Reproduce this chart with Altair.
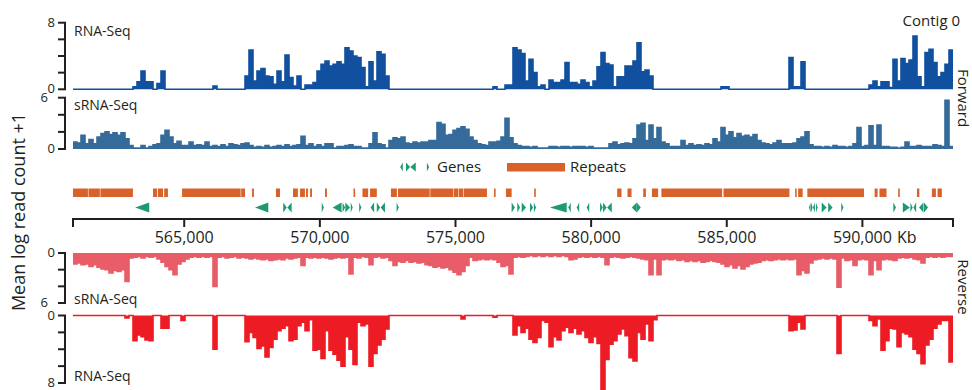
import altair as alt
import pandas as pd

# Genomic window shown on the shared x axis (bp)
START, END = 560900, 593340
TICKS = [565000, 570000, 575000, 580000, 585000, 590000]

# Mean log read count +1, in equal-width bins across the window
FWD_RNA = [
    0, 0, 0, 0, 0, 0, 0, 0, 0, 0, 0, 0, 0, 0, 0, 0.3, 0.9, 2.2, 0.9, 0.9,
    0, 0.7, 2.2, 0, 0, 0, 0, 0, 0, 0, 0, 0, 0, 0, 0, 0.4, 0, 0, 0, 0,
    0, 0, 0, 1.6, 4.7, 1.0, 2.2, 2.5, 1.6, 1.5, 0.6, 2.2, 0.9, 4.1, 1.4, 0.4, 1.6, 0, 0.5, 0.5,
    0.8, 2.2, 3.0, 3.4, 2.8, 3.0, 3.3, 3.0, 5.0, 4.6, 4.0, 3.8, 2.6, 0.3, 3.3, 1.0, 4.5, 4.2, 1.6, 0,
    0, 0, 0, 0, 0, 0, 0, 0, 0, 0, 0, 0, 0, 0, 0, 0, 0, 0, 0, 0,
    0, 0, 0, 0, 0, 0.3, 0, 0, 0.5, 0.5, 5.0, 4.7, 4.3, 1.0, 3.6, 2.0, 0.3, 0.5, 0, 1.1,
    0.8, 0.8, 1.1, 3.2, 0.8, 0.8, 0.6, 1.1, 0.8, 0.3, 1.0, 2.7, 4.4, 3.1, 2.9, 0.3, 1.5, 1.5, 2.8, 2.8,
    3.4, 5.6, 2.1, 2.3, 1.6, 0, 0, 0, 0, 0, 0, 0, 0, 0, 0, 0, 0, 0, 0, 0,
    0, 0, 0.3, 0.3, 0, 0, 0, 0, 0, 0, 0, 0, 0, 0, 0, 0, 0, 0, 0, 3.8,
    0.3, 0.3, 3.3, 0, 0, 0, 0, 0, 0, 0, 0, 0, 0, 0, 0, 0, 0, 0, 0, 0.5,
    1.0, 0.3, 0.9, 0.9, 0.2, 3.6, 1.0, 3.7, 3.1, 3.5, 6.4, 1.5, 0.3, 4.4, 4.8, 3.2, 1.5, 2.0, 3.0, 4.7,
]
FWD_SRNA = [
    0.8, 0.7, 1.6, 0.6, 1.1, 0.6, 1.4, 1.8, 2.0, 1.7, 1.9, 1.6, 1.9, 1.2, 0.4, 0.1, 0.1, 0.4, 0.1, 0.3,
    0.5, 0.6, 1.6, 2.2, 1.4, 0.6, 0.9, 0.4, 0.4, 0.8, 0.4, 0.5, 0.4, 0.8, 0.3, 0.4, 0.3, 0.5, 0.3, 0.6,
    0.5, 0.4, 0.6, 0.7, 0.4, 0.2, 0.3, 0.2, 0.4, 0.2, 0.3, 0.4, 0.3, 0.5, 0.3, 0.4, 0.5, 1.5, 0.4, 0.6,
    0.3, 0.5, 0.3, 0.6, 0.6, 0.1, 0.3, 0.3, 0.4, 0.5, 0.3, 0.3, 0.1, 0.1, 0.6, 1.9, 0.6, 0.5, 0.1, 1.0,
    1.3, 1.2, 1.4, 0.7, 0.6, 0.8, 0.7, 0.8, 0.8, 1.0, 1.0, 3.1, 2.9, 1.6, 1.7, 2.2, 2.4, 2.6, 2.3, 1.4,
    1.0, 0.6, 0.5, 0.4, 0.8, 0.8, 0.9, 1.4, 3.6, 1.3, 0.6, 0.4, 0.3, 0.3, 0.2, 0.3, 0.1, 0.1, 0.1, 0.3,
    0.3, 0.2, 0.3, 0.3, 0.2, 0.3, 0.3, 0.3, 0.2, 0.3, 0.1, 0.1, 0.1, 0.1, 0.6, 0.8, 0.5, 0.6, 0.7, 0.6,
    1.2, 2.8, 3.0, 1.0, 2.8, 1.2, 2.5, 0.8, 0.6, 0.3, 0.3, 0.3, 1.0, 0.4, 0.6, 0.4, 0.5, 0.4, 0.6, 0.5,
    1.2, 0.8, 2.5, 1.6, 2.0, 1.3, 1.8, 1.5, 1.6, 1.4, 1.7, 1.0, 0.7, 0.6, 0.5, 0.7, 1.0, 0.6, 0.6, 0.6,
    0.7, 1.2, 1.4, 2.0, 0.5, 0.3, 0.3, 0.2, 0.3, 0.2, 0.4, 0.3, 0.3, 0.2, 0.3, 0.6, 2.5, 0.3, 0.4, 2.7,
    0.4, 2.8, 0.3, 0.3, 0.2, 0.2, 0.1, 0.2, 0.8, 0.3, 0.3, 0.4, 0.3, 0.3, 0.3, 0.5, 0.4, 0.3, 5.7, 0.3,
]
REV_SRNA = [
    1.3, 1.2, 1.4, 1.3, 1.6, 1.4, 1.7, 1.9, 2.0, 2.4, 2.1, 2.2, 2.0, 3.4, 0.6, 0.5, 0.4, 0.6, 0.4, 0.5,
    0.4, 0.7, 1.1, 1.6, 2.0, 2.6, 1.3, 1.0, 0.7, 0.5, 0.4, 0.5, 0.4, 0.5, 0.4, 4.0, 0.5, 0.4, 0.6, 0.5,
    0.4, 0.6, 0.5, 0.6, 0.7, 0.6, 0.7, 0.8, 0.7, 0.9, 0.8, 0.7, 0.8, 0.6, 0.7, 0.6, 0.5, 1.5, 0.5, 0.6,
    0.5, 0.6, 0.5, 0.6, 0.7, 0.6, 0.5, 0.6, 0.5, 2.5, 0.5, 0.6, 0.4, 0.5, 1.4, 0.5, 0.4, 0.6, 0.5, 0.9,
    1.5, 1.0, 1.1, 0.9, 1.1, 1.0, 1.2, 1.1, 1.4, 1.5, 1.7, 1.6, 1.8, 1.7, 2.0, 2.3, 2.6, 2.2, 1.5, 0.5,
    0.9, 0.8, 0.7, 0.8, 0.7, 0.8, 1.1, 1.6, 1.5, 2.5, 0.5, 0.4, 0.5, 0.4, 0.3, 0.4, 0.3, 0.4, 0.3, 0.4,
    0.3, 0.4, 0.3, 0.4, 0.8, 0.7, 0.5, 0.4, 0.5, 0.4, 0.5, 0.4, 0.5, 1.4, 0.5, 0.4, 0.5, 0.6, 0.5, 0.4,
    0.5, 0.6, 0.7, 0.8, 2.6, 0.7, 2.6, 0.8, 0.7, 0.8, 0.7, 0.9, 0.8, 1.0, 0.9, 1.0, 0.9, 1.1, 1.0, 0.9,
    1.0, 1.1, 1.3, 1.6, 1.4, 1.8, 1.5, 1.9, 1.6, 1.3, 1.2, 1.1, 0.9, 0.8, 0.9, 0.8, 0.7, 0.8, 0.7, 0.8,
    0.7, 2.6, 2.1, 2.4, 1.2, 0.8, 0.7, 0.6, 0.7, 0.6, 0.7, 4.1, 0.6, 0.9, 0.8, 1.5, 0.8, 0.7, 0.8, 2.6,
    0.9, 2.0, 0.8, 0.7, 0.8, 0.9, 0.6, 0.5, 0.6, 0.5, 0.7, 0.8, 1.2, 0.5, 0.4, 0.5, 0.4, 0.5, 0.4, 0.4,
]
REV_RNA = [
    0, 0, 0, 0, 0, 0, 0, 0, 0, 0, 0, 0, 0, 0.3, 0, 3.0, 2.3, 2.5, 2.9, 3.0,
    0, 0, 1.5, 1.5, 0, 0, 0, 0.6, 0, 0, 0, 0, 0, 0, 0, 4.0, 0, 0, 0, 0,
    0, 0, 0, 3.1, 2.0, 2.6, 3.9, 3.6, 4.9, 3.8, 2.8, 1.8, 1.5, 1.2, 3.0, 2.8, 1.2, 0.8, 1.8, 0.5,
    4.1, 4.0, 5.1, 1.8, 4.1, 4.6, 5.3, 6.0, 2.5, 4.0, 5.8, 0.8, 1.2, 1.0, 6.0, 4.5, 3.5, 2.8, 1.6, 0,
    0, 0, 0, 0, 0, 0, 0, 0, 0, 0, 0, 0, 0, 0, 0, 0, 0, 0.4, 0, 0,
    0, 0, 0, 0, 0, 0.2, 0, 0, 0, 0, 2.3, 1.2, 2.0, 1.5, 2.8, 3.2, 2.6, 0.6, 0.8, 3.7,
    2.5, 2.9, 1.8, 1.4, 2.0, 1.5, 2.2, 1.8, 2.6, 3.2, 2.5, 3.3, 8.8, 5.2, 3.4, 3.0, 2.2, 1.6, 2.4, 5.0,
    5.4, 2.0, 2.8, 1.0, 3.0, 0.5, 0, 0, 0, 0, 0, 0, 0, 0, 0, 0, 0, 0, 0, 0,
    0, 0, 0, 0, 0, 0, 0, 0, 0, 0, 0, 0, 0, 0, 0, 0, 0, 0, 0, 1.8,
    1.7, 0.8, 1.6, 0, 0, 0, 0, 0, 0, 0, 0, 4.5, 0, 0, 0, 0, 0, 0, 0, 0.6,
    1.2, 0.4, 4.1, 3.0, 1.5, 1.6, 3.7, 2.0, 2.2, 2.5, 4.0, 4.5, 5.7, 3.5, 2.8, 1.5, 1.0, 0.6, 0.6, 5.5,
]

# Repeat annotations (bp)
REPEAT_START = [560900, 561470, 561910, 563850, 564030, 564260, 564920, 567100, 567500, 568380,
                569010, 569270, 569490, 569640, 570190, 571240, 571570, 571850, 572620, 572880,
                574070, 574930, 575120, 575300, 576420, 576860, 577900, 580960, 581340, 581920,
                582240, 582590, 584880, 587520, 587630, 587970, 590450, 590630, 591320, 592010,
                592560, 592770]
REPEAT_END = [561450, 561890, 563110, 564000, 564220, 564400, 567080, 567240, 567570, 568530,
              569190, 569450, 569560, 569710, 570260, 571300, 571780, 572100, 572840, 574050,
              574910, 575100, 575280, 576160, 576480, 577070, 577960, 581120, 581490, 582020,
              582470, 584830, 587310, 587580, 587800, 590060, 590560, 590890, 591380, 592100,
              592710, 592930]

# Gene models (bp) and strand
GENE_START = [563190, 567610, 568650, 568800, 570070, 570470, 570840, 570940, 571140, 571450,
              571870, 572100, 572240, 572830, 577070, 577280, 577440, 577750, 577890, 578480,
              579160, 579470, 579840, 580330, 580440, 580590, 581500, 581680, 588030, 588110,
              588180, 588290, 588500, 588740, 589220, 591140, 591490, 591770, 591880, 592090,
              592270]
GENE_END = [563710, 568100, 568780, 568960, 570150, 570800, 570930, 571110, 571210, 571530,
            572000, 572220, 572400, 572910, 577190, 577380, 577600, 577860, 577970, 579100,
            579250, 579560, 579930, 580430, 580570, 580760, 581680, 581830, 588090, 588160,
            588250, 588350, 588680, 588900, 589300, 591240, 591750, 591850, 591980, 592250,
            592420]
GENE_STRAND = ["-", "-", "+", "-", "+", "-", "+", "+", "+", "+",
               "-", "+", "-", "+", "+", "+", "+", "+", "+", "-",
               "-", "-", "-", "+", "+", "-", "-", "+", "-", "+",
               "-", "+", "+", "+", "+", "+", "+", "+", "-", "-",
               "+"]

INK = "#231f20"
FONT = "Open Sans"
BLUE_RNA = "#11509f"
BLUE_SRNA = "#356b9a"
RED_SRNA = "#e85d67"
RED_RNA = "#ed1c24"
ORANGE = "#d9622a"
GREEN = "#1b9a74"

LEFT = 73          # left padding: page x of the plot area's origin
PLOT_W, PLOT_H = 880, 390
AXIS_Y = 219       # coordinate axis line, inside the plot area
SPINE_X = -8       # track value axes sit just left of the plot area
GENE_MID, GENE_H = 207.5, 10

x_scale = alt.Scale(domain=[START, END], nice=False, zero=False)
X_NOAXIS = dict(scale=x_scale, axis=None)


def track_frame(values):
    n = len(values)
    step = (END - START) / n
    return pd.DataFrame({
        "pos": [START + i * step for i in range(n + 1)],
        "value": list(values) + [values[-1]],
    })


def track(values, color, top, y_range, top_label_shift=0):
    yscale = alt.Scale(domain=[0, top], range=y_range, nice=False, zero=True)

    def ych(field):
        return alt.Y(field, scale=yscale, axis=None, stack=None)

    area = alt.Chart(track_frame(values)).mark_area(
        interpolate="step-after", color=color, opacity=1,
        line={"color": color, "strokeWidth": 1.6},
    ).encode(x=alt.X("pos:Q", **X_NOAXIS), y=ych("value:Q"))

    spine = alt.Chart(pd.DataFrame({"a": [0], "b": [top]})).mark_rule(
        color=INK, strokeWidth=2,
    ).encode(x=alt.value(SPINE_X), y=ych("a:Q"), y2="b:Q")

    ticks = alt.Chart(pd.DataFrame({"v": list(range(0, top + 1, 2))})).mark_rule(
        color=INK, strokeWidth=2,
    ).encode(x=alt.value(SPINE_X - 7), x2=alt.value(SPINE_X + 1), y=ych("v:Q"))

    def tick_label(v, right_edge):
        return alt.Chart(pd.DataFrame({"v": [v], "t": [str(v)]})).mark_text(
            align="right", baseline="middle", font=FONT, fontSize=13, color=INK,
        ).encode(x=alt.value(right_edge), y=ych("v:Q"), text="t:N")

    return alt.layer(
        area, spine, ticks,
        tick_label(0, SPINE_X - 10),
        tick_label(top, SPINE_X - 10 - top_label_shift),
    )


def text(label, px, py, size=14, align="left", baseline="middle", angle=0):
    return alt.Chart(pd.DataFrame({"t": [label]})).mark_text(
        align=align, baseline=baseline, angle=angle, font=FONT, fontSize=size, color=INK,
    ).encode(x=alt.value(px - LEFT), y=alt.value(py), text="t:N")


def arrow_path(width_px, strand, height_px=GENE_H):
    # symbol path in [-1, 1] units; the symbol is drawn height_px tall
    a = round(width_px / height_px, 4)
    if strand == "+":
        return f"M{-a},-1L{a},0L{-a},1Z"
    return f"M{a},-1L{-a},0L{a},1Z"


def glyph(cx, width, strand, cy=167, height=9):
    return alt.Chart(pd.DataFrame({"g": [0]})).mark_point(
        shape=arrow_path(width, strand, height), filled=True, size=height * height,
        color=GREEN, opacity=1, strokeWidth=0,
    ).encode(x=alt.value(cx - LEFT), y=alt.value(cy))


fwd_rna = track(FWD_RNA, BLUE_RNA, 8, [89.3, 22.7])
fwd_srna = track(FWD_SRNA, BLUE_SRNA, 6, [149, 97.7], top_label_shift=7)
rev_srna = track(REV_SRNA, RED_SRNA, 6, [253, 303], top_label_shift=7)
rev_rna = track(REV_RNA, RED_RNA, 8, [315.5, 383])

repeats = alt.Chart(pd.DataFrame({"start": REPEAT_START, "end": REPEAT_END})).mark_rect(
    color=ORANGE, opacity=1,
).encode(
    x=alt.X("start:Q", **X_NOAXIS),
    x2="end:Q",
    y=alt.value(188.5),
    y2=alt.value(197),
)

# Genes: one arrowhead symbol per gene, centred on the gene and as wide as it is long
px_per_bp = PLOT_W / (END - START)
gene_df = pd.DataFrame({"start": GENE_START, "end": GENE_END, "strand": GENE_STRAND})
gene_df["mid"] = (gene_df["start"] + gene_df["end"]) / 2
gene_df["shape"] = [
    arrow_path(max((e - s) * px_per_bp, 1.6), st)
    for s, e, st in zip(gene_df["start"], gene_df["end"], gene_df["strand"])
]
genes = alt.Chart(gene_df).mark_point(
    filled=True, size=GENE_H * GENE_H, color=GREEN, opacity=1, strokeWidth=0,
).encode(
    x=alt.X("mid:Q", **X_NOAXIS),
    y=alt.value(GENE_MID),
    shape=alt.Shape("shape:N", scale=None, legend=None),
)

# Coordinate axis along the middle of the figure
axis_line = alt.Chart(pd.DataFrame({"a": [START], "b": [END]})).mark_rule(
    color=INK, strokeWidth=2,
).encode(x=alt.X("a:Q", **X_NOAXIS), x2="b:Q", y=alt.value(AXIS_Y))

axis_ticks = alt.Chart(pd.DataFrame({"pos": [START] + TICKS + [END]})).mark_rule(
    color=INK, strokeWidth=2,
).encode(x=alt.X("pos:Q", **X_NOAXIS), y=alt.value(AXIS_Y - 1), y2=alt.value(AXIS_Y + 8))

axis_labels = alt.Chart(pd.DataFrame({"pos": TICKS, "label": [f"{t:,}" for t in TICKS]})).mark_text(
    align="center", baseline="top", font=FONT, fontSize=16, color=INK,
).encode(x=alt.X("pos:Q", **X_NOAXIS), y=alt.value(AXIS_Y + 11), text="label:N")

legend_bar = alt.Chart(pd.DataFrame({"r": [0]})).mark_rect(color=ORANGE, opacity=1).encode(
    x=alt.value(507 - LEFT), x2=alt.value(565 - LEFT), y=alt.value(163), y2=alt.value(171.5),
)

layers = [
    fwd_rna, fwd_srna, rev_srna, rev_rna, repeats,
    legend_bar,
    glyph(401.5, 2.6, "-"), glyph(408, 4, "+"), glyph(413, 5.5, "-"), glyph(428, 2.2, "+"),
    text("Genes", 437, 167, 15),
    text("Repeats", 570, 167, 15),
    text("RNA-Seq", 74, 32, 14),
    text("sRNA-Seq", 74, 105.5, 14),
    text("sRNA-Seq", 74, 299.5, 14),
    text("RNA-Seq", 74, 377, 14),
    text("Contig 0", 960, 21, 15, align="right"),
    text("Forward", 962.5, 98, 15, align="center", angle=90),
    text("Reverse", 962.5, 287, 15, align="center", angle=90),
    text("Mean log read count +1", 19.5, 212, 18, align="center", angle=270),
    text("Kb", 897, AXIS_Y + 11, 16, baseline="top"),
    axis_line, axis_ticks, axis_labels, genes,
]

chart = alt.layer(*layers).resolve_scale(y="independent").properties(
    width=PLOT_W,
    height=PLOT_H,
    background="white",
    padding={"left": LEFT, "top": 0, "right": 972 - LEFT - PLOT_W, "bottom": 0},
    autosize=alt.AutoSizeParams(type="none"),
).configure_view(stroke=None)

chart.save("out.html", embed_options={"renderer": "svg", "actions": False})
